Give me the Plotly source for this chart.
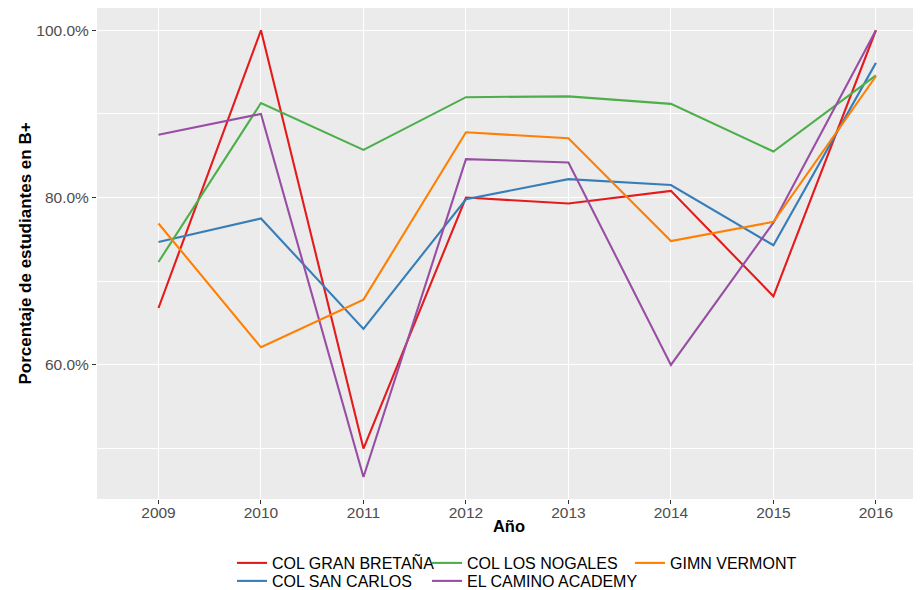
import plotly.graph_objects as go

years = [2009, 2010, 2011, 2012, 2013, 2014, 2015, 2016]
year_labels = [str(y) for y in years]

# Percent of students at level B+ (as fractions)
gran_bretana = [0.668, 1.000, 0.500, 0.800, 0.793, 0.808, 0.682, 1.000]
san_carlos   = [0.747, 0.775, 0.643, 0.798, 0.822, 0.815, 0.743, 0.961]
los_nogales  = [0.723, 0.913, 0.857, 0.920, 0.921, 0.912, 0.855, 0.946]
el_camino    = [0.875, 0.900, 0.466, 0.846, 0.842, 0.600, 0.770, 1.000]
gimn_vermont = [0.769, 0.621, 0.678, 0.878, 0.871, 0.748, 0.771, 0.945]

font_family = "Liberation Sans, Arial, sans-serif"
# The page body adds an 8px margin, so the figure is sized to fill the rest.
FIG_W, FIG_H = 913, 582
PL, PT, PW, PH = 89, 0, 824, 491


def px_x(px):
    return (px - PL) / PW


def px_y(py):
    return 1 - (py - PT) / PH


# (name, values, colour, legend id, legend left px, legend top px)
series = [
    ("COL GRAN BRETAÑA", gran_bretana, "#E41A1C", "legend", 224, 538),
    ("COL SAN CARLOS", san_carlos, "#377EB8", "legend2", 224, 556),
    ("COL LOS NOGALES", los_nogales, "#4DAF4A", "legend3", 419, 538),
    ("EL CAMINO ACADEMY", el_camino, "#984EA3", "legend4", 419, 556),
    ("GIMN VERMONT", gimn_vermont, "#FF7F00", "legend5", 622, 538),
]

fig = go.Figure()
legends = {}
for name, vals, color, leg, lx, ly in series:
    fig.add_trace(go.Scatter(
        x=years, y=vals, mode="lines", name=name, showlegend=True,
        line=dict(color=color, width=2.1), legend=leg,
    ))
    legends[leg] = dict(
        x=px_x(lx), y=px_y(ly), xanchor="left", yanchor="top",
        orientation="v", itemwidth=30, tracegroupgap=0,
        font=dict(family=font_family, size=16, color="black"),
        bgcolor="rgba(0,0,0,0)",
    )

fig.update_layout(
    width=FIG_W, height=FIG_H, showlegend=True,
    margin=dict(l=PL, r=FIG_W - PL - PW, t=PT, b=FIG_H - PT - PH,
                autoexpand=False),
    paper_bgcolor="white", plot_bgcolor="#EBEBEB",
    font=dict(family=font_family),
    xaxis=dict(
        range=[2008.4, 2016.44], tickvals=years, ticktext=year_labels,
        automargin=False, ticklabelstandoff=-5,
        showgrid=True, gridcolor="white", gridwidth=1.1, zeroline=False,
        ticks="outside", ticklen=4, tickcolor="#333333", tickwidth=1,
        tickfont=dict(family=font_family, size=15.5, color="#4D4D4D"),
        title=dict(text="<b>Año</b>", standoff=0,
                   font=dict(family=font_family, size=16.5, color="black")),
    ),
    yaxis=dict(
        range=[0.4397, 1.0266], tickmode="array", tickvals=[0.6, 0.8, 1.0],
        tickformat=".1%", automargin=False,
        showgrid=True, gridcolor="white", gridwidth=1.1, zeroline=False,
        ticks="outside", ticklen=4, tickcolor="#333333", tickwidth=1,
        tickfont=dict(family=font_family, size=15.5, color="#4D4D4D"),
        minor=dict(tick0=0, dtick=0.1, showgrid=True,
                   gridcolor="white", gridwidth=0.55, ticks=""),
        title=dict(text="<b>Porcentaje de estudiantes en B+</b>", standoff=0,
                   font=dict(family=font_family, size=17, color="black")),
    ),
    **legends,
)

fig.write_html("out.html")
